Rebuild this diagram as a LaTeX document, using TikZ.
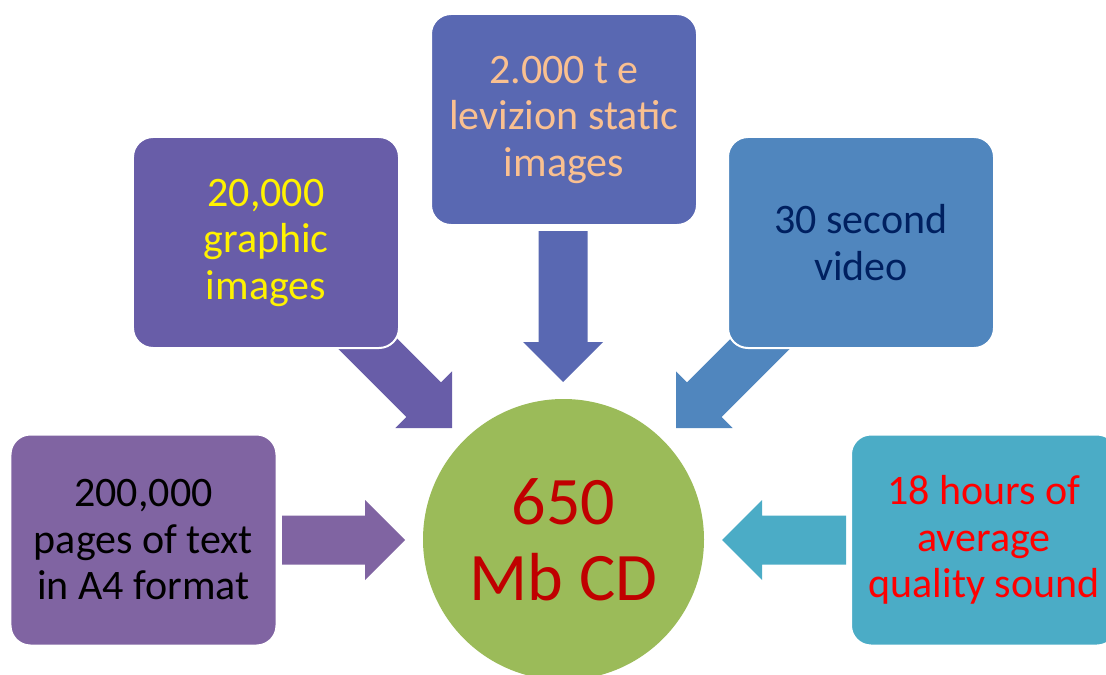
\documentclass[tikz,border=0pt]{standalone}
\usepackage{fontspec}
\setmainfont{Carlito}
\usetikzlibrary{calc}

\definecolor{pagesfill}{RGB}{128,100,162}
\definecolor{graphfill}{RGB}{104,93,168}
\definecolor{stillfill}{RGB}{89,104,178}
\definecolor{videofill}{RGB}{80,134,190}
\definecolor{soundfill}{RGB}{75,172,198}
\definecolor{cdfill}{RGB}{155,187,89}
\definecolor{cdtext}{RGB}{192,0,0}
\definecolor{peach}{RGB}{250,192,144}
\definecolor{navy}{RGB}{0,32,96}

\tikzset{
  item/.style={rectangle, rounded corners=20bp, draw=white, line width=2bp,
    minimum width=266bp, minimum height=211bp, inner sep=0pt, align=center,
    font=\fontsize{42bp}{46.5bp}\selectfont},
  hub/.style={circle, minimum size=281bp, inner sep=0pt, fill=cdfill,
    text=cdtext, align=center, font=\fontsize{68bp}{76bp}\selectfont},
}

% fat arrow from #1 to #2, filled with #3
\newcommand\blockarrow[3]{%
  \coordinate (#1-h) at ($(#2)!40bp!(#1)$);
  \fill[#3] ($(#1)!24.5bp!90:(#2)$) -- ($(#1-h)!24.5bp!90:(#2)$)
    -- ($(#1-h)!40bp!90:(#2)$) -- (#2) -- ($(#1-h)!40bp!-90:(#2)$)
    -- ($(#1-h)!24.5bp!-90:(#2)$) -- ($(#1)!24.5bp!-90:(#2)$) -- cycle;}

\begin{document}
\begin{tikzpicture}[x=1bp, y=-1bp]
  \useasboundingbox (0,0) rectangle (1106,675);

  % arrow tails and tips
  \coordinate (pages-a) at (282,540);
  \coordinate (pages-b) at (405,540);
  \coordinate (graph-a) at (340,316);
  \coordinate (graph-b) at (452,428);
  \coordinate (still-a) at (563,231);
  \coordinate (still-b) at (563,382);
  \coordinate (video-a) at (788,316);
  \coordinate (video-b) at (676,428);
  \coordinate (sound-a) at (846,540);
  \coordinate (sound-b) at (722,540);

  \blockarrow{pages-a}{pages-b}{pagesfill}
  \blockarrow{graph-a}{graph-b}{graphfill}
  \blockarrow{still-a}{still-b}{stillfill}
  \blockarrow{video-a}{video-b}{videofill}
  \blockarrow{sound-a}{sound-b}{soundfill}

  \node[item, fill=pagesfill, text=black] (pages) at (143.5,540)
    {200,000\\pages of text\\in A4 format};
  \node[item, fill=graphfill, text=yellow] (graph) at (266,242.5)
    {20,000\\graphic\\images};
  \node[item, fill=stillfill, text=peach] (still) at (564,119.5)
    {2.000 t e\\levizion static\\images};
  \node[item, fill=videofill, text=navy] (video) at (861,242.5)
    {30 second\\video};
  \node[item, fill=soundfill, text=red] (sound) at (984,540)
    {18 hours of\\average\\quality sound};

  \node[hub] (cd) at (563.5,539.5) {650\\Mb CD};
\end{tikzpicture}
\end{document}
